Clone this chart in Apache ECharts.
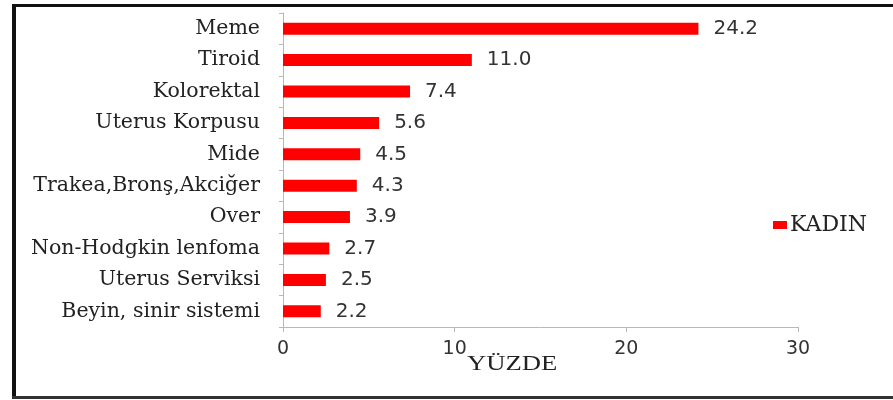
<!DOCTYPE html>
<html>
<head>
<meta charset="utf-8">
<script src="https://cdn.jsdelivr.net/npm/echarts@6/dist/echarts.min.js"></script>
<style>
  html, body { margin: 0; padding: 0; background: #fff; }
  #chart { width: 893px; height: 400px; }
</style>
</head>
<body>
<div id="chart"></div>
<script>
const categories = ['Meme', 'Tiroid', 'Kolorektal', 'Uterus Korpusu', 'Mide',
  'Trakea,Bronş,Akciğer', 'Over', 'Non-Hodgkin lenfoma', 'Uterus Serviksi', 'Beyin, sinir sistemi'];
const kadin = [24.2, 11.0, 7.4, 5.6, 4.5, 4.3, 3.9, 2.7, 2.5, 2.2];
const xTicks = [0, 10, 20, 30];

const serif = '"DejaVu Serif", "Liberation Serif", serif';
const sans = '"DejaVu Sans", "Liberation Sans", sans-serif';

const chart = echarts.init(document.getElementById('chart'));
chart.setOption({
  animation: false,
  backgroundColor: '#fff',
  grid: { left: 283, top: 13, right: 95, bottom: 73, containLabel: false },
  legend: {
    data: ['KADIN'],
    left: 768, top: 209,
    icon: 'rect', itemWidth: 14, itemHeight: 8, itemGap: 4,
    textStyle: { fontFamily: serif, fontSize: 22, color: '#222', padding: [0, 0, 0, -2] }
  },
  xAxis: {
    type: 'value',
    min: xTicks[0], max: xTicks[xTicks.length - 1], interval: 10,
    axisLine: { show: true, lineStyle: { color: '#b8b8b8', width: 1 } },
    axisTick: { show: true, length: 5, lineStyle: { color: '#b8b8b8' } },
    splitLine: { show: false },
    axisLabel: { margin: 13, fontFamily: sans, fontSize: 19, color: '#333' }
  },
  yAxis: {
    type: 'category',
    inverse: true,
    data: categories,
    axisLine: { show: true, lineStyle: { color: '#b8b8b8', width: 1 } },
    axisTick: { show: true, length: 4, lineStyle: { color: '#b8b8b8' } },
    axisLabel: { margin: 23, fontFamily: serif, fontSize: 20.5, color: '#222' }
  },
  series: [{
    name: 'KADIN',
    type: 'bar',
    data: kadin,
    barWidth: 12,
    itemStyle: { color: '#f00' },
    label: {
      show: true, position: 'right', distance: 15,
      formatter: p => p.value.toFixed(1),
      fontFamily: sans, fontSize: 20, color: '#333'
    }
  }],
  graphic: [
    { type: 'text', x: 467, y: 354, scaleX: 1.27,
      style: { text: 'YÜZDE', font: '21px "Liberation Serif", serif', fill: '#222' } },
    { type: 'rect', shape: { x: 12, y: 4, width: 4, height: 395 }, style: { fill: '#111' } },
    { type: 'rect', shape: { x: 12, y: 4, width: 881, height: 3 }, style: { fill: '#111' } },
    { type: 'rect', shape: { x: 12, y: 396, width: 881, height: 3 }, style: { fill: '#333' } }
  ]
});
</script>
</body>
</html>
